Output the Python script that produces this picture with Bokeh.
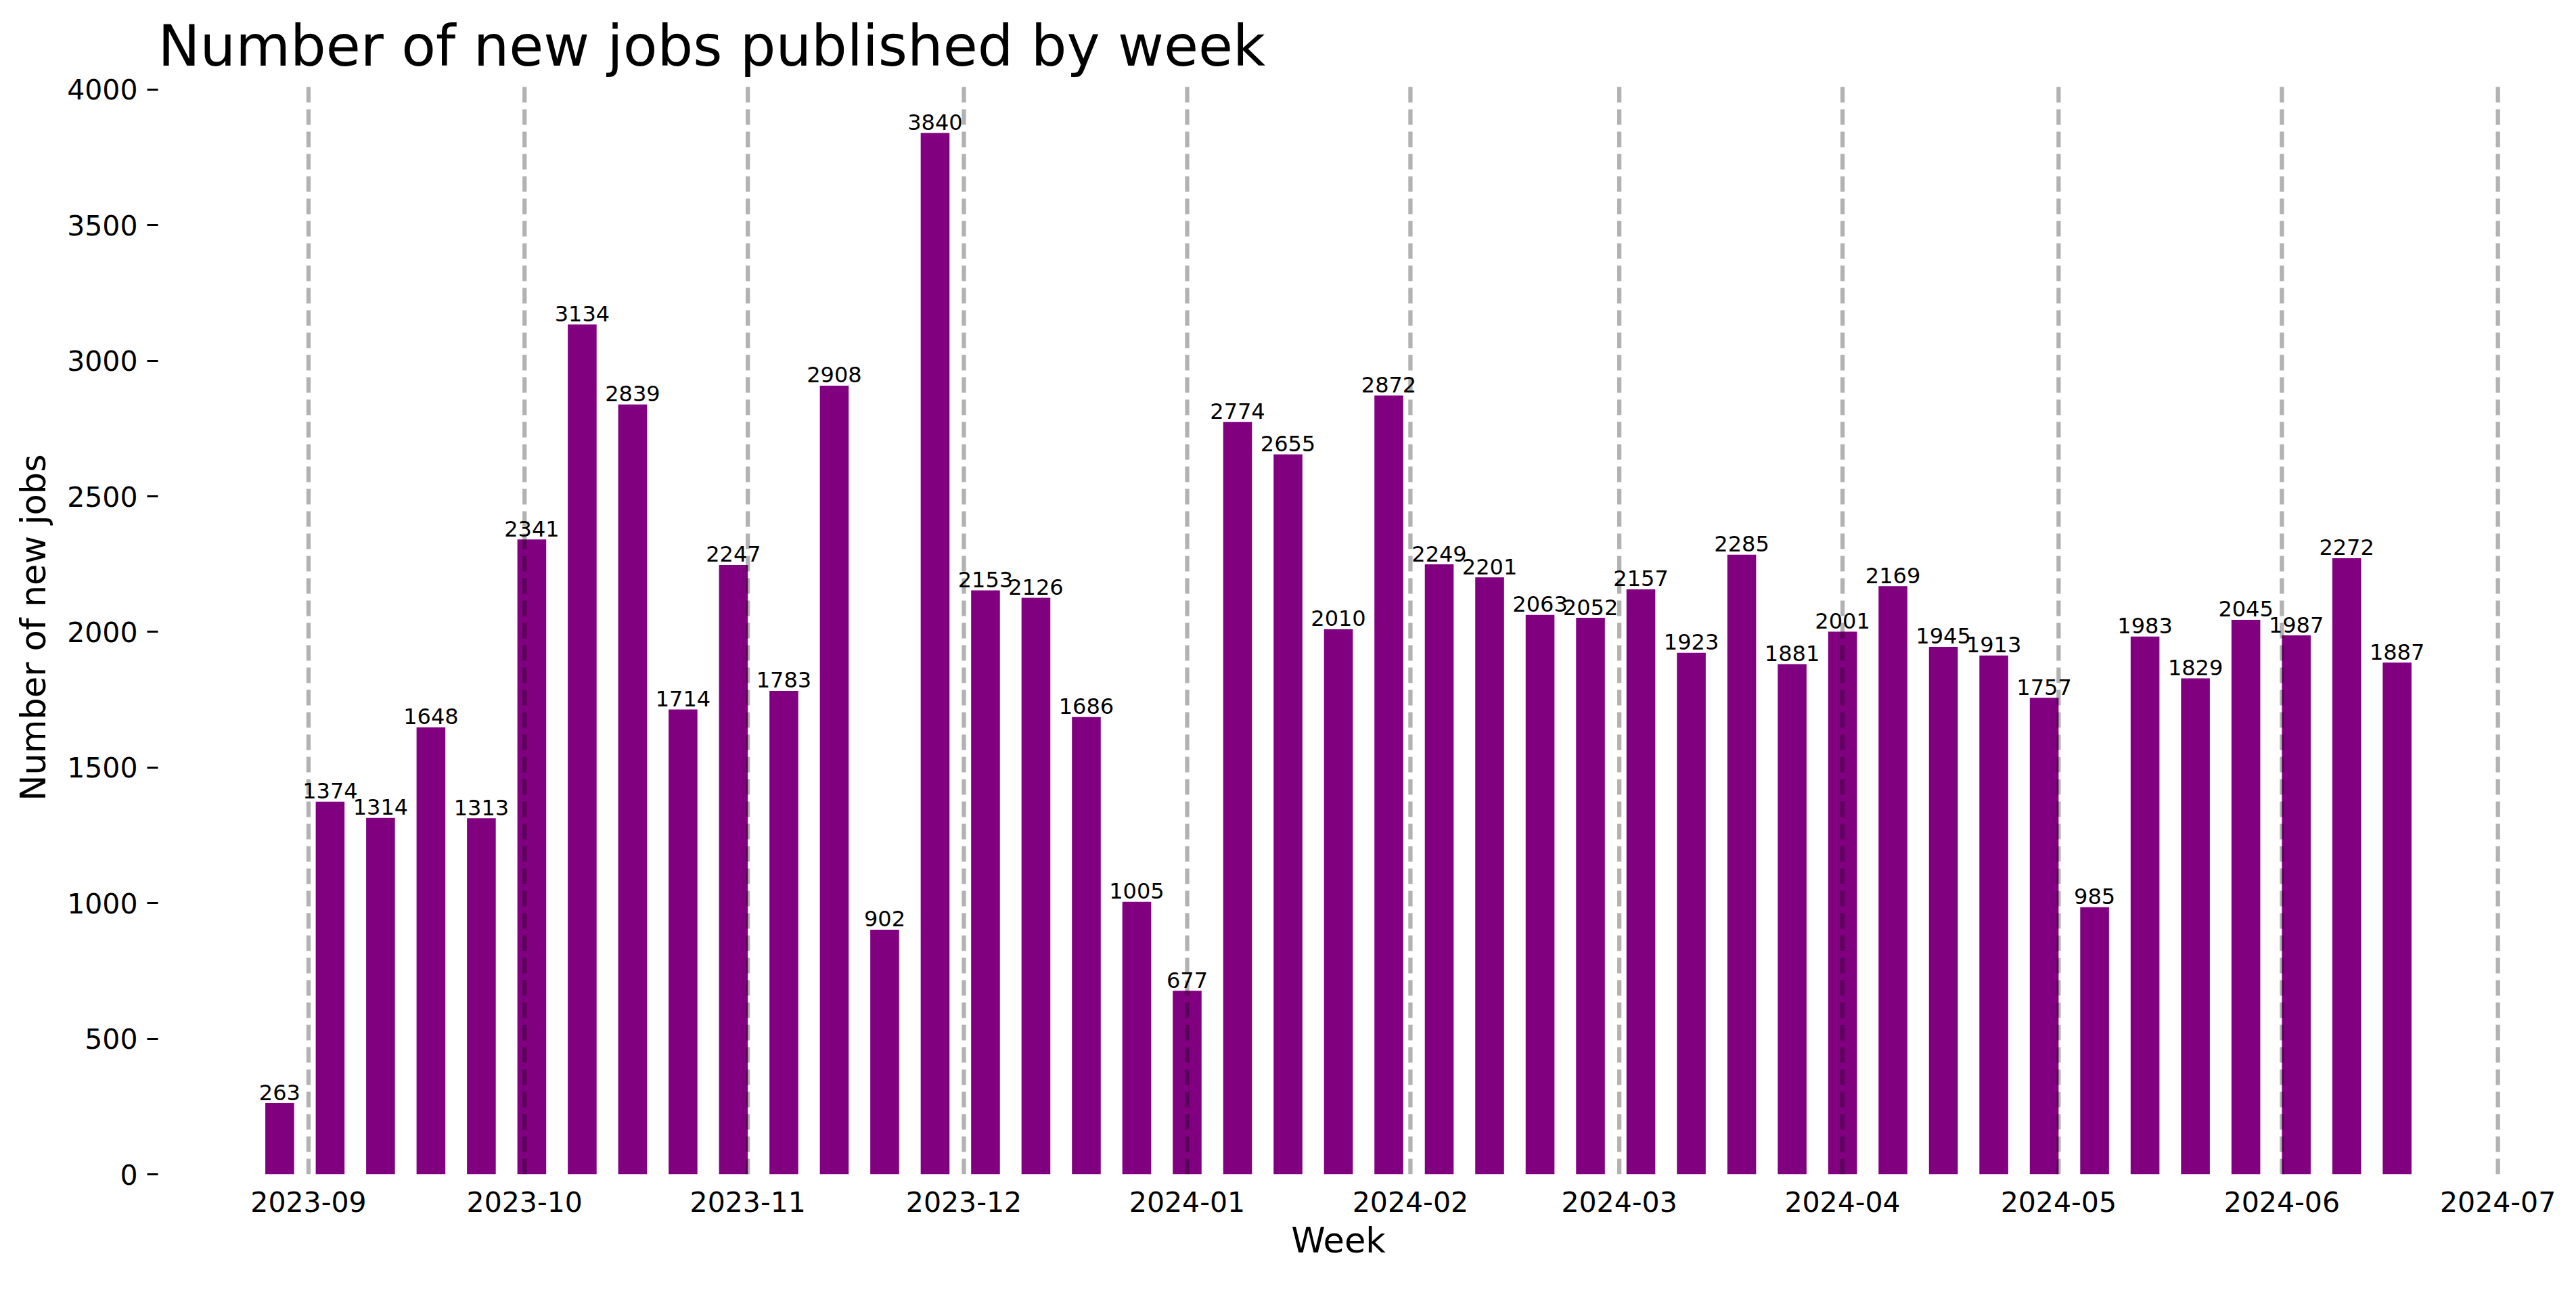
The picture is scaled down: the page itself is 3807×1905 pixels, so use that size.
import pandas as pd
from bokeh.plotting import figure
from bokeh.models import Range1d, FixedTicker, DatetimeTickFormatter, ColumnDataSource
from bokeh.embed import file_html
from bokeh.resources import INLINE

# ---- data ----
first_week = "2023-08-28"
new_jobs = [263, 1374, 1314, 1648, 1313, 2341, 3134, 2839, 1714, 2247,
            1783, 2908, 902, 3840, 2153, 2126, 1686, 1005, 677, 2774,
            2655, 2010, 2872, 2249, 2201, 2063, 2052, 2157, 1923, 2285,
            1881, 2001, 2169, 1945, 1913, 1757, 985, 1983, 1829, 2045,
            1987, 2272, 1887]
week_starts = pd.date_range(first_week, periods=len(new_jobs), freq="7D")
month_labels = ["2023-09", "2023-10", "2023-11", "2023-12", "2024-01", "2024-02",
                "2024-03", "2024-04", "2024-05", "2024-06", "2024-07"]
y_ticks = [0, 500, 1000, 1500, 2000, 2500, 3000, 3500, 4000]

title_text = "Number of new jobs published by week"
x_label = "Week"
y_label = "Number of new jobs"

FONT = "DejaVu Sans"
bar_width = pd.Timedelta(days=4)

month_dates = pd.to_datetime([m + "-01" for m in month_labels])

# matplotlib-like autoscale (5% margins)
x_lo = week_starts[0] - bar_width / 2
x_hi = week_starts[-1] + bar_width / 2
span = x_hi - x_lo
x_start = x_lo - span * 0.05
x_end = x_hi + span * 0.05
y_end = max(new_jobs) * 1.05

p = figure(width=3807, height=1905, x_axis_type="datetime",
           output_backend="svg", toolbar_location=None,
           x_range=Range1d(x_start.to_pydatetime(), x_end.to_pydatetime()),
           y_range=Range1d(0, y_end),
           min_border_left=233, min_border_right=85,
           min_border_top=119, min_border_bottom=170)
p.background_fill_color = "white"
p.border_fill_color = "white"
p.outline_line_color = None
p.xgrid.visible = False
p.ygrid.visible = False

bars = ColumnDataSource(dict(x=week_starts, top=new_jobs,
                             label=[str(v) for v in new_jobs]))
p.vbar(x="x", top="top", bottom=0, width=bar_width.total_seconds() * 1000,
       source=bars, fill_color="#800080", line_color=None)

p.text(x="x", y="top", text="label", source=bars, text_align="center",
       text_baseline="alphabetic", y_offset=-16, text_font_size="32px",
       text_font={"value": FONT}, text_color="black")

lines = ColumnDataSource(dict(x=month_dates, y0=[0] * len(month_dates),
                              y1=[y_end] * len(month_dates)))
p.segment(x0="x", y0="y0", x1="x", y1="y1", source=lines, line_color="black",
          line_alpha=0.3, line_width=6.3, line_dash="23 10")

# axes
month_ms = [int(d.value // 10**6) for d in month_dates]
p.xaxis.ticker = FixedTicker(ticks=month_ms)
fmt = "%Y-%m"
p.xaxis.formatter = DatetimeTickFormatter(years=fmt, months=fmt, days=fmt, hours=fmt,
                                          minutes=fmt, seconds=fmt, milliseconds=fmt,
                                          microseconds=fmt, hourmin=fmt, minsec=fmt)
p.yaxis.ticker = FixedTicker(ticks=y_ticks)

for ax in (p.xaxis[0], p.yaxis[0]):
    ax.axis_line_color = None
    ax.minor_tick_line_color = None
    ax.major_label_text_font = FONT
    ax.major_label_text_font_size = "41px"
    ax.major_label_text_color = "black"
    ax.axis_label_text_font = FONT
    ax.axis_label_text_font_size = "51px"
    ax.axis_label_text_font_style = "normal"
    ax.axis_label_text_color = "black"

p.xaxis.major_tick_line_color = None
p.xaxis.major_tick_out = 0
p.xaxis.major_tick_in = 0
p.xaxis.major_label_standoff = 25
p.xaxis.axis_label = x_label
p.xaxis.axis_label_standoff = 10

p.yaxis.major_tick_line_color = "black"
p.yaxis.major_tick_line_width = 3
p.yaxis.major_tick_out = 16
p.yaxis.major_tick_in = 0
p.yaxis.major_label_standoff = 14
p.yaxis.axis_label = y_label
p.yaxis.axis_label_standoff = 17

p.title.text = title_text
p.title.align = "left"
p.title.text_font = FONT
p.title.text_font_size = "83px"
p.title.text_font_style = "normal"
p.title.text_color = "black"
p.title.standoff = 6

open("out.html", "w").write(file_html(p, INLINE))
